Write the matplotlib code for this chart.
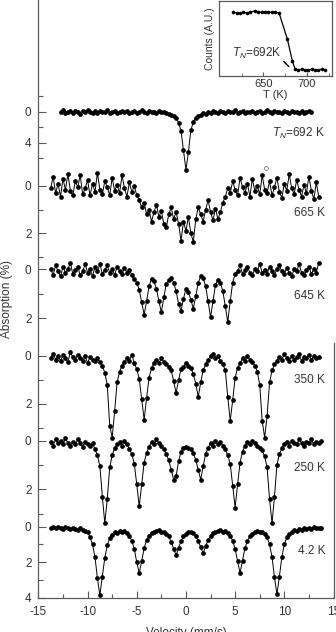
"""
Mossbauer spectra of the sample from 4.2 K up to T_N, stacked with offsets.
Inset: transmitted counts vs temperature across the Neel transition.

Output: out.png
"""
import numpy as np
import matplotlib
matplotlib.use('Agg')  # no display
import matplotlib.pyplot as plt

plt.rcParams['font.family'] = ['Liberation Sans', 'DejaVu Sans']
plt.rcParams['mathtext.fontset'] = 'custom'
plt.rcParams['mathtext.rm'] = 'Liberation Sans'
plt.rcParams['mathtext.it'] = 'Liberation Sans:italic'
plt.rcParams['axes.unicode_minus'] = False

# velocity channels (mm/s), same grid for every spectrum
velocity = np.linspace(-13.75, 13.75, 111)

nan = np.nan

# absorption (%), one value per channel
abs_692K = [
    nan, nan, nan, nan, 0.10, -0.20, 0.15, 0.00, -0.10, 0.20,
    -0.15, 0.05, 0.25, -0.10, 0.10, -0.20, 0.00, 0.15, -0.05, 0.20,
    -0.15, 0.10, 0.00, -0.20, 0.15, 0.05, -0.10, 0.20, 0.00, -0.15,
    0.10, -0.05, 0.20, 0.05, -0.10, 0.15, 0.00, -0.20, 0.10, 0.20,
    -0.05, 0.10, 0.00, 0.15, -0.10, 0.10, 0.05, 0.20, 0.30, 0.40,
    0.60, 0.85, 1.40, 2.50, 5.00, 7.50, 5.20, 2.40, 1.30, 0.80,
    0.50, 0.45, 0.20, 0.30, 0.00, 0.15, -0.10, 0.10, 0.20, -0.15,
    0.05, 0.20, -0.10, 0.10, 0.00, -0.20, 0.15, 0.05, -0.10, 0.20,
    0.00, 0.10, -0.15, 0.20, 0.05, -0.10, 0.15, 0.00, -0.20, 0.10,
    0.20, -0.05, 0.10, 0.00, 0.15, -0.15, 0.05, 0.20, -0.10, 0.10,
    0.00, 0.15, -0.10, 0.20, 0.05, -0.15, 0.10, nan, nan, nan, nan,
]

abs_665K = [
    0.10, -0.40, 0.30, -0.10, 0.45, -0.30, 0.15, -0.50, 0.20, 0.40,
    -0.20, 0.05, -0.45, 0.35, 0.10, -0.25, 0.40, -0.10, 0.25, -0.55,
    0.15, 0.35, -0.20, 0.05, 0.40, -0.35, 0.20, -0.05, 0.30, -0.45,
    0.10, 0.45, -0.15, 0.25, 0.00, 0.40, 0.60, 0.90, 0.70, 1.20,
    1.00, 1.50, 1.10, 0.80, 1.30, 1.05, 1.60, 1.75, 1.20, 0.90,
    1.40, 1.10, 1.60, 2.30, 1.50, 1.90, 1.30, 2.00, 2.35, 1.40,
    0.90, 1.20, 1.50, 1.00, 0.60, 1.10, 1.45, 0.95, 1.40, 1.10,
    0.70, 0.45, 0.10, 0.30, -0.20, 0.15, 0.40, -0.35, 0.05, 0.30,
    -0.10, 0.45, -0.30, 0.20, 0.00, 0.35, -0.45, 0.15, 0.30, -0.20,
    0.40, 0.05, -0.35, 0.25, 0.50, -0.10, 0.20, -0.50, 0.10, 0.35,
    -0.25, 0.15, 0.45, -0.05, 0.30, -0.40, 0.20, 0.55, -0.15, 0.45, nan,
]
# the single open-circle point above the 665 K baseline
outlier_665K_v = [8.1]
outlier_665K_abs = [-0.75]

abs_645K = [
    0.00, 0.25, -0.15, 0.10, 0.30, -0.10, 0.15, 0.00, -0.25, 0.20,
    0.05, -0.10, 0.25, 0.10, -0.20, 0.15, 0.00, 0.30, -0.10, 0.10,
    -0.20, 0.20, 0.05, -0.15, 0.15, 0.00, 0.25, -0.10, 0.10, 0.20,
    -0.05, 0.15, 0.05, 0.25, 0.40, 0.55, 0.85, 1.35, 1.85, 1.30,
    0.70, 0.40, 0.50, 0.80, 1.30, 1.75, 1.15, 0.60, 0.45, 0.35,
    0.55, 0.90, 1.40, 1.70, 1.20, 0.80, 0.95, 1.25, 1.60, 1.10,
    0.55, 0.30, 0.35, 0.70, 1.30, 1.95, 1.30, 0.65, 0.45, 0.55,
    0.90, 1.50, 2.15, 1.30, 0.55, 0.20, 0.10, -0.15, 0.20, 0.05,
    -0.10, 0.15, 0.25, 0.00, 0.10, -0.20, 0.15, 0.05, 0.20, -0.10,
    0.10, 0.25, 0.00, -0.15, 0.10, 0.20, -0.05, 0.15, 0.30, 0.00,
    0.10, -0.20, 0.15, 0.25, 0.05, -0.10, 0.20, 0.00, 0.15, -0.25, nan,
]

abs_350K = [
    0.10, -0.10, 0.15, 0.00, 0.20, -0.05, 0.10, 0.25, -0.15, 0.05,
    0.15, -0.05, 0.10, 0.20, 0.00, 0.30, 0.05, 0.15, 0.20, 0.10,
    0.25, 0.40, 0.70, 1.20, 2.90, 3.40, 2.30, 1.10, 0.65, 0.40,
    0.25, 0.10, 0.20, -0.05, 0.30, 0.55, 0.95, 1.80, 2.65, 1.75,
    0.90, 0.50, 0.30, 0.15, 0.30, 0.10, 0.25, 0.35, 0.45, 0.60,
    1.05, 1.55, 1.00, 0.55, 0.45, 0.30, 0.40, 0.50, 0.75, 1.15,
    1.70, 1.10, 0.60, 0.35, 0.15, 0.00, -0.10, 0.10, 0.00, 0.20,
    0.35, 0.60, 1.70, 2.70, 1.85, 0.90, 0.50, 0.30, 0.10, 0.20,
    0.00, 0.15, 0.25, 0.40, 0.65, 1.20, 2.70, 3.40, 2.50, 1.10,
    0.60, 0.35, 0.20, 0.05, 0.15, -0.10, 0.10, 0.20, 0.00, 0.15,
    0.05, -0.10, 0.20, 0.05, 0.10, -0.05, 0.15, 0.00, 0.10, 0.05, nan,
]

abs_250K = [
    0.05, 0.20, -0.05, 0.10, 0.00, 0.15, -0.10, 0.10, 0.20, 0.05,
    0.15, -0.05, 0.10, 0.25, 0.05, 0.15, 0.20, 0.10, 0.35, 0.60,
    1.05, 2.30, 3.40, 2.40, 1.10, 0.60, 0.30, 0.15, 0.05, 0.20,
    0.00, 0.15, 0.35, 0.55, 0.95, 1.80, 2.70, 1.80, 0.90, 0.50,
    0.25, 0.05, 0.15, -0.05, 0.10, 0.20, 0.35, 0.55, 0.80, 1.20,
    1.60, 1.45, 0.85, 0.45, 0.30, 0.25, 0.30, 0.35, 0.50, 0.80,
    1.20, 1.60, 1.05, 0.55, 0.30, 0.10, 0.20, 0.00, 0.15, 0.05,
    0.20, 0.35, 0.60, 0.95, 1.85, 2.75, 1.80, 0.90, 0.45, 0.20,
    0.05, 0.15, 0.00, 0.10, 0.20, 0.30, 0.40, 0.65, 1.10, 2.40,
    3.40, 2.30, 1.00, 0.55, 0.30, 0.15, 0.05, 0.20, 0.00, 0.10,
    0.15, -0.05, 0.10, 0.20, 0.05, 0.10, -0.05, 0.15, 0.05, 0.10, 0.00,
]

abs_4K = [
    0.05, 0.00, 0.10, 0.02, 0.08, 0.12, 0.00, 0.10, 0.15, 0.05,
    0.12, 0.18, 0.10, 0.20, 0.25, 0.30, 0.60, 1.00, 1.70, 2.90,
    3.85, 2.80, 1.75, 1.05, 0.65, 0.45, 0.30, 0.35, 0.22, 0.30,
    0.25, 0.35, 0.50, 0.80, 1.25, 2.00, 2.60, 1.95, 1.20, 0.75,
    0.50, 0.38, 0.30, 0.25, 0.20, 0.28, 0.30, 0.40, 0.55, 0.85,
    1.25, 1.60, 1.20, 0.80, 0.55, 0.40, 0.30, 0.30, 0.38, 0.50,
    0.80, 1.15, 1.50, 1.10, 0.75, 0.50, 0.38, 0.30, 0.25, 0.20,
    0.28, 0.22, 0.35, 0.50, 0.80, 1.25, 1.95, 2.60, 1.90, 1.20,
    0.80, 0.55, 0.40, 0.30, 0.25, 0.30, 0.32, 0.40, 0.60, 1.00,
    1.70, 2.85, 3.80, 2.80, 1.70, 1.00, 0.60, 0.40, 0.30, 0.20,
    0.25, 0.12, 0.18, 0.08, 0.15, 0.05, 0.12, 0.00, 0.10, 0.05, 0.08,
]

# inset: counts vs temperature
inset_T = [615.5, 619.4, 623.2, 627.0, 630.9, 634.7, 640.5, 644.3, 648.2,
           652.0, 655.8, 659.7, 663.5, 668.1, 677.7, 683.4, 686.6, 690.4,
           694.2, 698.1, 701.9, 705.8, 709.6, 713.4, 717.3, 721.1]
inset_counts = [0.85, 0.84, 0.84, 0.85, 0.84, 0.85, 0.87, 0.85, 0.85,
                0.85, 0.85, 0.85, 0.85, 0.84, 0.49, 0.20, 0.09, 0.08,
                0.09, 0.08, 0.08, 0.09, 0.08, 0.08, 0.09, 0.08]

# figure is laid out in pixel rows so the stack offsets are easy to place
W, H = 336, 632
X0, X1 = 38.4, 333.5
TOP_END, BOT_START, BOT_END = 342, 343, 598

fig = plt.figure(figsize=(W / 100, H / 100), dpi=100)
ax_top = fig.add_axes([X0 / W, 1 - TOP_END / H, (X1 - X0) / W, TOP_END / H])
ax_bot = fig.add_axes([X0 / W, 1 - BOT_END / H, (X1 - X0) / W,
                       (BOT_END - BOT_START) / H])
ax_top.set_ylim(TOP_END, 0)
ax_bot.set_ylim(BOT_END, BOT_START)

# (data, axes, zero row, rows per %, label, label row, major ticks, minor ticks)
stack = [
    (abs_692K, ax_top, 111.7, 7.75, r'$T_N$=692 K', 133, [0, 4], [-2, 2, 6]),
    (abs_665K, ax_top, 186.0, 23.7, '665 K', 213, [0, 2], [1, 3]),
    (abs_645K, ax_top, 269.0, 24.7, '645 K', 296, [0, 2], [1]),
    (abs_350K, ax_bot, 356.0, 24.0, '350 K', 380, [0, 2], [1, 3]),
    (abs_250K, ax_bot, 440.7, 24.3, '250 K', 468, [0, 2], [1, 3]),
    (abs_4K, ax_bot, 526.7, 17.8, '4.2 K', 551, [0, 2, 4], [1, 3]),
]

ink = '#333333'
spine_c = '#5a5a5a'

ticks = {ax_top: ([], [], []), ax_bot: ([], [], [])}
for vals, ax, zero, scale, label, label_row, major, minor in stack:
    y = zero + scale * np.array(vals)
    ax.plot(velocity, y, '-', color='k', lw=0.7, clip_on=False)
    ax.plot(velocity, y, 'o', color='k', ms=3.4, mew=0, clip_on=False)
    fig.text(325 / W, 1 - label_row / H, label, ha='right', va='center',
             fontsize=8.5, color=ink)
    pos, labs, mins = ticks[ax]
    pos += [zero + scale * m for m in major]
    labs += [str(m) for m in major]
    mins += [zero + scale * m for m in minor]

ax_top.plot(outlier_665K_v, 186.0 + 23.7 * np.array(outlier_665K_abs), 'o',
            mfc='white', mec='#777777', ms=2.8, mew=0.6)

for ax in (ax_top, ax_bot):
    pos, labs, mins = ticks[ax]
    ax.set_yticks(pos, labs)
    ax.set_yticks(mins, minor=True)
    ax.set_xlim(-15, 15)
    ax.set_facecolor('none')
    ax.tick_params(axis='y', which='major', direction='in', length=6,
                   width=0.8, color=spine_c, labelsize=8.5, labelcolor=ink,
                   pad=5)
    ax.tick_params(axis='y', which='minor', direction='in', length=3.5,
                   width=0.8, color=spine_c)
    ax.spines['top'].set_visible(False)
    for s in ax.spines.values():
        s.set_color(spine_c)
        s.set_linewidth(0.9)

ax_top.spines['right'].set_visible(False)
ax_top.spines['bottom'].set_visible(False)
ax_top.tick_params(axis='x', which='both', bottom=False, labelbottom=False)

ax_bot.set_xticks(np.arange(-15, 16, 5))
ax_bot.set_xticks(np.arange(-12.5, 15, 5), minor=True)
ax_bot.tick_params(axis='x', which='major', direction='in', length=5,
                   width=0.8, color=spine_c, labelsize=8.5, labelcolor=ink,
                   pad=6)
ax_bot.tick_params(axis='x', which='minor', direction='in', length=3,
                   width=0.8, color=spine_c)

fig.text(186 / W, 1 - 627 / H, 'Velocity (mm/s)', ha='center', va='top',
         fontsize=8.5, color=ink)
fig.text(7 / W, 1 - 299 / H, 'Absorption (%)', ha='center', va='center',
         rotation=90, fontsize=8.5, color=ink)

# inset
ax_in = fig.add_axes([219 / W, 1 - 76 / H, (332 - 219) / W, 75 / H])
ax_in.plot(inset_T, inset_counts, '-o', color='k', lw=0.9, ms=2.6, mew=0)
ax_in.set_xlim(599, 729)
ax_in.set_ylim(0, 1)
ax_in.set_xticks([650, 700])
ax_in.set_xticks([625, 675, 725], minor=True)
ax_in.set_yticks([])
ax_in.tick_params(axis='x', which='major', direction='in', length=3,
                  color=spine_c, labelsize=8, labelcolor=ink, pad=2)
ax_in.tick_params(axis='x', which='minor', direction='in', length=2,
                  color=spine_c)
for s in ax_in.spines.values():
    s.set_color(spine_c)
    s.set_linewidth(0.9)
ax_in.set_xlabel('T (K)', fontsize=8, color=ink, labelpad=1)
ax_in.set_ylabel('Counts (A.U.)', fontsize=7.5, color=ink, labelpad=3)
ax_in.text(613.6, 0.30, r'$T_N$=692K', fontsize=8.5, color=ink,
           ha='left', va='center')
ax_in.annotate('', xy=(681.6, 0.10), xytext=(671.2, 0.22),
               arrowprops=dict(arrowstyle='-', lw=1.0, color='k'))

fig.savefig('out.png', dpi=100)
